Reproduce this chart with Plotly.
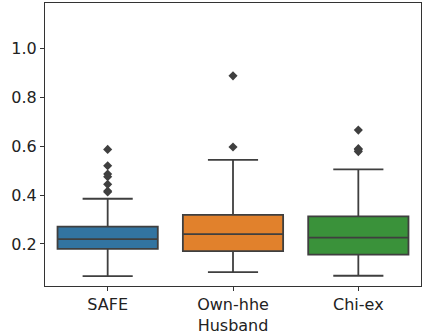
import plotly.graph_objects as go

categories = ["SAFE", "Own-hhe<br>Husband", "Chi-ex"]
q1 = [0.180, 0.171, 0.156]
median = [0.220, 0.240, 0.226]
q3 = [0.271, 0.319, 0.313]
lowerfence = [0.068, 0.085, 0.070]
upperfence = [0.385, 0.544, 0.505]
outliers = [
    [0.587, 0.520, 0.486, 0.475, 0.444, 0.417, 0.413],
    [0.888, 0.597],
    [0.666, 0.590, 0.586, 0.578],
]
colors = ["#3274a1", "#e1812c", "#3a923a"]
edge = "#3f3f3f"

fig = go.Figure()
for i, cat in enumerate(categories):
    fig.add_trace(go.Box(
        x=[cat], q1=[q1[i]], median=[median[i]], q3=[q3[i]],
        lowerfence=[lowerfence[i]], upperfence=[upperfence[i]],
        fillcolor=colors[i], line=dict(color=edge, width=1.8),
        width=0.8, whiskerwidth=0.5, boxpoints=False, showlegend=False,
    ))
    fig.add_trace(go.Scatter(
        x=[cat] * len(outliers[i]), y=outliers[i], mode="markers",
        marker=dict(symbol="diamond", size=7, color=edge, line=dict(width=0)),
        showlegend=False,
    ))

axis_common = dict(
    showline=True, linecolor="#333333", linewidth=1, mirror=True,
    ticks="outside", ticklen=4, tickcolor="#333333", showgrid=False,
    zeroline=False, tickfont=dict(family="DejaVu Sans", size=16, color="#222222"),
)
fig.update_layout(
    width=422, height=335,
    margin=dict(l=45, r=1, t=3, b=49),
    paper_bgcolor="white", plot_bgcolor="white",
    xaxis=dict(type="category", categoryorder="array", categoryarray=categories,
               range=[-0.5, 2.5], **axis_common),
    yaxis=dict(range=[0.028, 1.186], tickvals=[0.2, 0.4, 0.6, 0.8, 1.0],
               ticktext=["0.2", "0.4", "0.6", "0.8", "1.0"], **axis_common),
    boxmode="overlay",
    hovermode=False,
)
fig.write_html("out.html", config={"displayModeBar": False},
               post_script="document.body.style.margin='0';")
